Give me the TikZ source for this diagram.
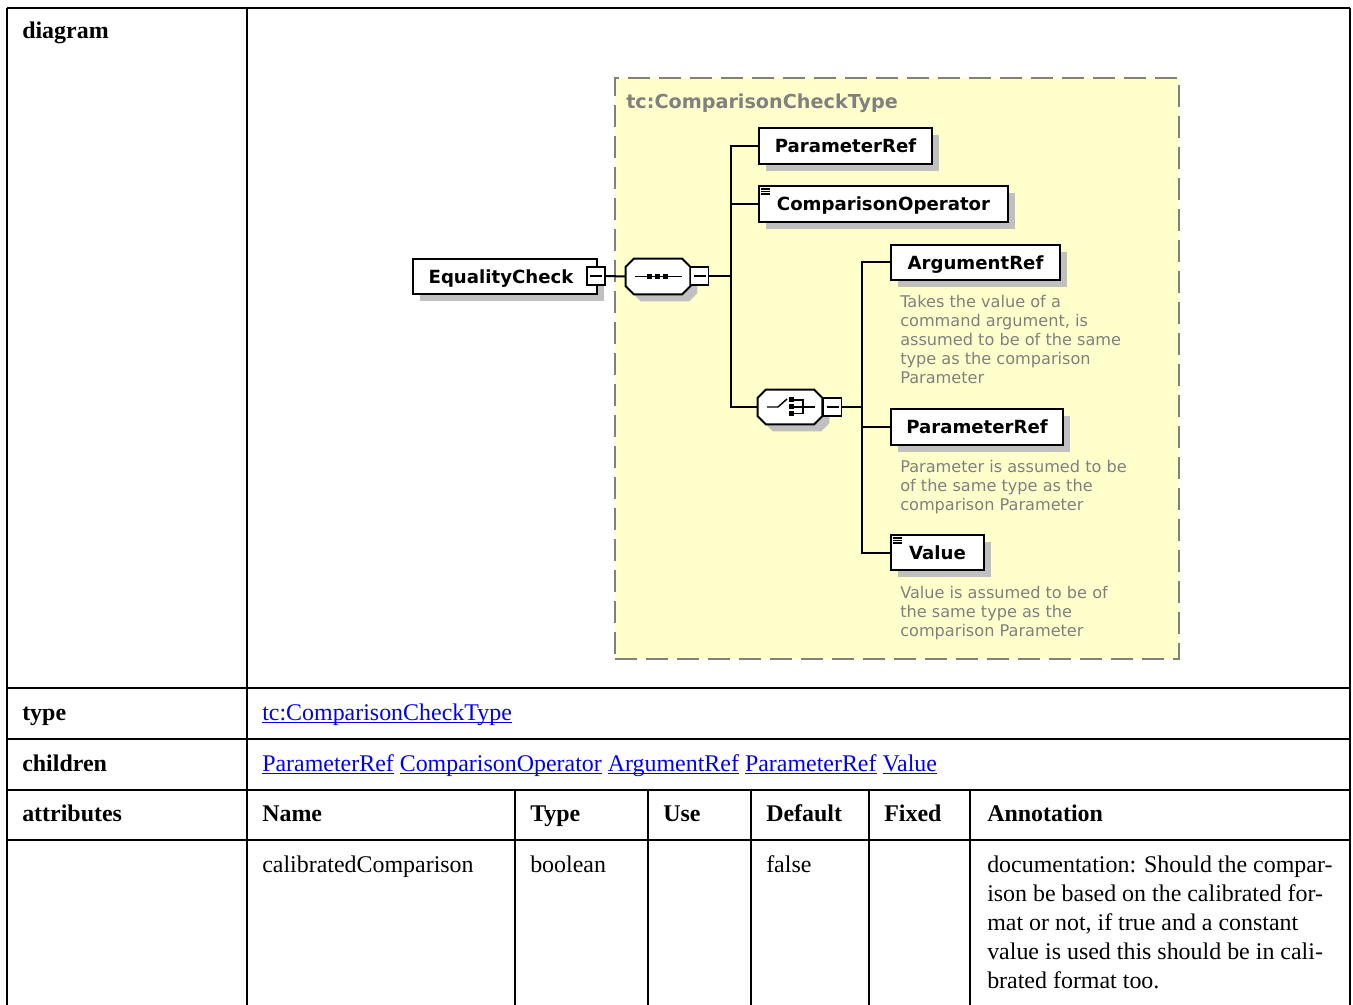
\documentclass[tikz,border=0pt]{standalone}
\usepackage{fontspec}
\setmainfont{Liberation Serif}
\newfontfamily\schemafont{DejaVu Sans}
\usetikzlibrary{calc,shadows}

\definecolor{typefill}{RGB}{255,255,204}
\definecolor{dashgray}{RGB}{128,128,128}
\definecolor{shadowgray}{RGB}{192,192,192}
\definecolor{notegray}{RGB}{128,128,128}
\definecolor{linkblue}{RGB}{0,0,238}

% one unit = one pixel of the rendered page
\def\pxu{0.75pt}

% hyperlink-style underline, just below the baseline
\newcommand\linkul[1]{\setbox0\hbox{#1}\rlap{\rule[-2.4pt]{\wd0}{0.9pt}}\box0\relax}

% octagonal compositor outline around a (rectangular) node, offset by #2 px
\newcommand\octagonpath[2]{%
  ($(#1.north west)+(8+#2,#2)$) -- ($(#1.north east)+(-8+#2,#2)$) --
  ($(#1.north east)+(#2,8+#2)$) -- ($(#1.south east)+(#2,-8+#2)$) --
  ($(#1.south east)+(-8+#2,#2)$) -- ($(#1.south west)+(8+#2,#2)$) --
  ($(#1.south west)+(#2,-8+#2)$) -- ($(#1.north west)+(#2,8+#2)$) -- cycle}

\begin{document}
\begin{tikzpicture}[x=0.75pt,y=-0.75pt,
  grid/.style={line width=0.9pt},
  cell/.style={anchor=base west, inner sep=0pt, font=\fontsize{17.95}{21.75}\selectfont},
  head/.style={cell, font=\bfseries\fontsize{17.95}{21.75}\selectfont},
  link/.style={cell, text=linkblue},
  typebox/.style={draw=dashgray, fill=typefill, line width=1.5pt,
    dash pattern=on 16.5pt off 6.75pt, inner sep=0pt},
  typetitle/.style={anchor=base west, inner sep=0pt, text=notegray,
    font=\schemafont\bfseries\fontsize{14.4}{16}\selectfont},
  elem/.style={draw, fill=white, line width=1.5pt, inner sep=0pt,
    font=\schemafont\bfseries\fontsize{13.6}{16}\selectfont,
    text height=9.8pt, text depth=0pt,
    drop shadow={shadow xshift=7*\pxu, shadow yshift=-7*\pxu, fill=shadowgray, opacity=1}},
  compositor/.style={inner sep=0pt, minimum width=64*\pxu},
  minusbox/.style={draw, fill=white, line width=1.1pt, minimum size=18*\pxu, inner sep=0pt,
    path picture={\draw[line width=1.1pt]
      ([xshift=3*\pxu]path picture bounding box.west) --
      ([xshift=-3*\pxu]path picture bounding box.east);}},
  conn/.style={line width=1.5pt},
  glyph/.style={line width=1.1pt},
  note/.style={anchor=base west, inner sep=0pt, align=left, text=notegray,
    font=\schemafont\fontsize{12.1}{14.25}\selectfont}]

\useasboundingbox (0,0) rectangle (1353,1005);

% ---------------- table grid ----------------
\begin{scope}[grid]
  \draw (7,8) -- (1350,8);
  \draw (7,8) -- (7,1005);
  \draw (247,8) -- (247,1005);
  \draw (1350,8) -- (1350,1005);
  \foreach \y in {688,739,790,840} \draw (7,\y) -- (1350,\y);
  \foreach \x in {515,648,751,869,970} \draw (\x,790) -- (\x,1005);
\end{scope}

% ---------------- table texts ----------------
\node[head] (lbldiagram) at (22,39) {diagram};
\node[head] (lbltype) at (22,720) {type};
\node[head] (lblchildren) at (22,771) {children};
\node[head] (lblattributes) at (22,821) {attributes};

\node[link] (typelink) at (262,720) {\linkul{tc:ComparisonCheckType}};
\node[link] (childlinks) at (262,771) {\linkul{ParameterRef} \linkul{ComparisonOperator} \linkul{ArgumentRef} \linkul{ParameterRef} \linkul{Value}};

\node[head] (hname) at (262,821) {Name};
\node[head] (htype) at (530,821) {Type};
\node[head] (huse) at (663,821) {Use};
\node[head] (hdefault) at (766,821) {Default};
\node[head] (hfixed) at (884,821) {Fixed};
\node[head] (hannot) at (987,821) {Annotation};

\node[cell] (aname) at (262,872) {calibratedComparison};
\node[cell] (atype) at (530,872) {boolean};
\node[cell] (adefault) at (766,872) {false};
% multi-line cell: placed by the baseline of its last line
\node[cell, align=left] (aannot) at (987,988) {documentation: Should the compar-\\ison be based on the calibrated for-\\mat or not, if true and a constant\\value is used this should be in cali-\\brated format too.};

% ---------------- schema diagram ----------------
\node[typebox, minimum width=564*\pxu, minimum height=581*\pxu] (ctype) at (897,368.5) {};
\node[typetitle] (ctypetitle) at (626,109) {tc:ComparisonCheckType};

% elements
\node[elem, minimum width=184*\pxu, minimum height=35*\pxu] (eq) at (505,276.5) {EqualityCheck\hspace*{6pt}};
\node[elem, minimum width=173*\pxu, minimum height=36*\pxu] (pra) at (845.5,146) {ParameterRef};
\node[elem, minimum width=249*\pxu, minimum height=36*\pxu] (cop) at (883.5,204) {ComparisonOperator};
\node[elem, minimum width=169*\pxu, minimum height=35*\pxu] (arg) at (975.5,262.5) {ArgumentRef};
\node[elem, minimum width=172*\pxu, minimum height=36*\pxu] (prb) at (977,427) {ParameterRef};
\node[elem, minimum width=93*\pxu, minimum height=35*\pxu] (val) at (937.5,552.5) {Value};

% simple-content marks
\foreach \e in {cop,val} {
  \foreach \dy in {4,6.5,9}
    \draw[line width=0.9pt] ([shift={(3,\dy)}]\e.north west) -- ++(9,0);
}

% compositors (sequence and choice)
\node[compositor, minimum height=35*\pxu] (seq) at (658,276.5) {};
\node[compositor, minimum height=34*\pxu] (cho) at (790,407) {};
\fill[shadowgray] \octagonpath{seq}{7};
\fill[shadowgray] \octagonpath{cho}{7};
\draw[line width=1.5pt, fill=white] \octagonpath{seq}{0};
\draw[line width=1.5pt, fill=white] \octagonpath{cho}{0};

% sequence glyph
\draw[glyph] ([shift={(-23,0)}]seq.center) -- ([shift={(24,0)}]seq.center);
\foreach \dx in {-9,-1,7}
  \fill ([shift={(\dx-2.5,-2.5)}]seq.center) rectangle ++(5,5);

% choice glyph
\draw[glyph] ([shift={(-23,0)}]cho.center) -- ([shift={(-12,0)}]cho.center) -- ([shift={(-3,-8)}]cho.center);
\foreach \dy in {-7,0,6.5}
  \fill ([shift={(-1.5,\dy-2.5)}]cho.center) rectangle ++(5,5);
\draw[glyph] ([shift={(3,-7)}]cho.center) -- ([shift={(13,-7)}]cho.center) -- ([shift={(13,6.5)}]cho.center) -- ([shift={(3,6.5)}]cho.center);
\draw[glyph] ([shift={(3,0)}]cho.center) -- ([shift={(25,0)}]cho.center);

% collapse boxes
\node[minusbox] (eqm) at (596,276) {};
\node[minusbox] (seqm) at (699.5,276) {};
\node[minusbox] (chom) at (832.5,407) {};

% connectors
\coordinate (seqbus) at (731,276);
\coordinate (chobus) at (862,407);
\draw[conn] (eqm.east) -- (seq.west);
\draw[conn] (seqm.east) -- (seqbus);
\draw[conn] (seqbus) |- (pra.west);
\draw[conn] (seqbus) |- (cop.west);
\draw[conn] (seqbus) |- (cho.west);
\draw[conn] (chom.east) -- (chobus);
\draw[conn] (chobus) |- (arg.west);
\draw[conn] (chobus) |- (prb.west);
\draw[conn] (chobus) |- (val.west);

% documentation notes (placed by the baseline of their last line)
\node[note] (argnote) at (900,384) {Takes the value of a\\command argument, is\\assumed to be of the same\\type as the comparison\\Parameter};
\node[note] (prbnote) at (900,510) {Parameter is assumed to be\\of the same type as the\\comparison Parameter};
\node[note] (valnote) at (900,636) {Value is assumed to be of\\the same type as the\\comparison Parameter};

\end{tikzpicture}
\end{document}
